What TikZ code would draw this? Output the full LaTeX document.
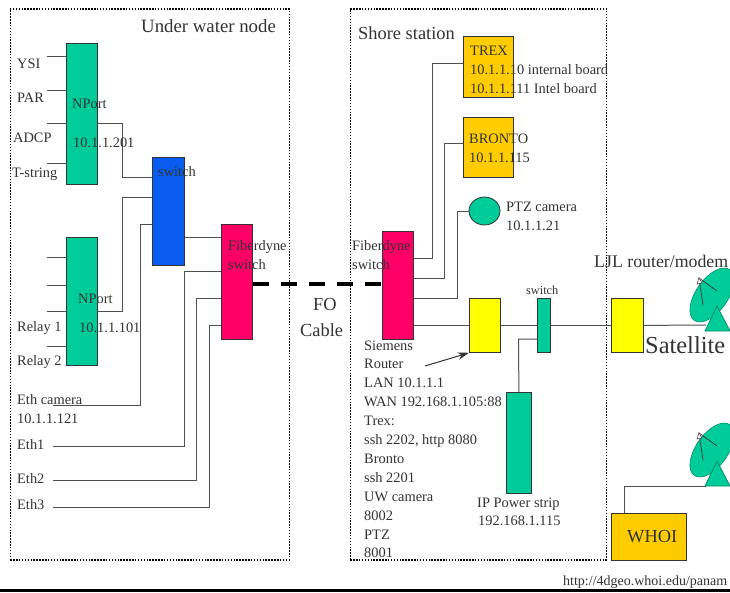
\documentclass[tikz,border=0pt]{standalone}
\usepackage{fontspec}
\setmainfont{Liberation Serif}
\usepackage{xcolor}
\usetikzlibrary{arrows.meta,positioning,calc,shapes.geometric}
\definecolor{cG}{HTML}{00CC99}
\definecolor{cB}{HTML}{0A5CF0}
\definecolor{cR}{HTML}{FF0066}
\definecolor{cY}{HTML}{FFFF00}
\definecolor{cO}{HTML}{FFCC00}
\definecolor{cL}{HTML}{505050}
\definecolor{cT}{HTML}{333333}
\newcommand{\fs}[2]{\fontsize{#1}{#2}\selectfont}
\tikzset{
  blk/.style={draw=cT,thick,inner sep=0pt,anchor=north west},
  wire/.style={draw=cL,line width=1pt},
  lbl/.style={inner sep=0pt,anchor=base west,text=cT,align=left,font=\fs{14.4}{19}},
  biglbl/.style={lbl,font=\fs{18.4}{26}},
  area/.style={draw=black,line width=1.5pt,dash pattern=on 1.5pt off 1.4pt},
  fo/.style={draw=black,line width=3.6pt,dash pattern=on 16pt off 12pt},
  arrowline/.style={-{Stealth[length=4mm,width=2.6mm]},draw=cT,line width=1pt},
}
\begin{document}
\begin{tikzpicture}[x=1pt,y=-1pt]
  \useasboundingbox (0,0) rectangle (730,592);
  \fill[white] (0,0) rectangle (730,592);
  % the two dotted areas
  \node[area,anchor=north west,inner sep=0pt,minimum width=279pt,minimum height=551pt] (uwArea) at (9.5,8){};
  \node[area,anchor=north west,inner sep=0pt,minimum width=256pt,minimum height=551pt] (shoreArea) at (349.5,8){};
  % boxes
  \node[blk,fill=cG,minimum width=31pt,minimum height=141pt] (nportA) at (66,43){};
  \node[blk,fill=cG,minimum width=31pt,minimum height=128pt] (nportB) at (66,237){};
  \node[blk,fill=cB,minimum width=32pt,minimum height=108pt] (swUw) at (152,157){};
  \node[blk,fill=cR,minimum width=31pt,minimum height=115pt] (fiberUw) at (221,224){};
  \node[blk,fill=cR,minimum width=31pt,minimum height=108pt] (fiberSh) at (382,231){};
  \node[blk,fill=cO,minimum width=50pt,minimum height=61pt] (trex) at (463,36){};
  \node[blk,fill=cO,minimum width=50pt,minimum height=60pt] (bronto) at (463,117){};
  \node[ellipse,draw=cT,thick,fill=cG,inner sep=0pt,minimum width=31pt,minimum height=28pt] (ptz) at (484.5,211){};
  \node[blk,fill=cY,minimum width=31pt,minimum height=54pt] (router) at (469,298){};
  \node[blk,fill=cG,minimum width=13pt,minimum height=54pt] (swSh) at (537,298){};
  \node[blk,fill=cG,minimum width=25pt,minimum height=101pt] (power) at (506,392){};
  \node[blk,fill=cY,minimum width=32pt,minimum height=54pt] (ljl) at (611,298){};
  \node[blk,fill=cO,minimum width=75pt,minimum height=47pt] (whoi) at (611,513){};
  % sensor stubs on the two NPorts
  \foreach \n/\y in {a/56,b/90,c/123,d/163}{
    \coordinate (st\n) at (47,\y);
    \draw[wire] (st\n) -- (nportA.west |- st\n);
  }
  \foreach \n/\y in {e/257,f/285,g/311,h/346}{
    \coordinate (st\n) at (47,\y);
    \draw[wire] (st\n) -- (nportB.west |- st\n);
  }
  % under water wiring
  \coordinate (ethcam) at (53,405);
  \coordinate (ethA) at (53,446);
  \coordinate (ethB) at (53,480);
  \coordinate (ethC) at (53,507);
  \draw[wire] (nportA.east |- stc) -- (122,123) -- (122,177) -- (swUw.west |- 122,177);
  \draw[wire] (nportB.east |- stg) -- (122,311) -- (122,197) -- (swUw.west |- 122,197);
  \draw[wire] (ethcam) -- (140,405) -- (140,224) -- (swUw.west |- 140,224);
  \draw[wire] (swUw.east |- 184,237) -- (fiberUw.west |- 184,237);
  \draw[wire] (ethA) -- (184,446) -- (184,271) -- (fiberUw.west |- 184,271);
  \draw[wire] (ethB) -- (196,480) -- (196,298) -- (fiberUw.west |- 196,298);
  \draw[wire] (ethC) -- (209,507) -- (209,325) -- (fiberUw.west |- 209,325);
  \draw[fo] (fiberUw.east |- 252,284) -- (fiberSh.west |- 252,284);
  % shore wiring
  \draw[wire] (fiberSh.east |- 413,258) -- (432,258) -- (432,63) -- (trex.west |- 432,63);
  \draw[wire] (fiberSh.east |- 413,278) -- (444,278) -- (444,143) -- (bronto.west |- 444,143);
  \draw[wire] (fiberSh.east |- 413,298) -- (457,298) -- (457,211) -- (ptz.west);
  \draw[wire] (fiberSh.east |- router.west) -- (router.west);
  \draw[wire] (router.east) -- (swSh.west);
  \draw[wire] (swSh.east) -- (ljl.west);
  \draw[wire] (power.north) -- (518.5,339) -- (swSh.west |- 518.5,339);
  \coordinate (arrowtail) at (425,366);
  \draw[arrowline] (arrowtail) -- (router.south west);
  % the two dishes
  \foreach \n/\dy in {A/0,B/155}{
    \begin{scope}[shift={(0,\dy)}]
      \fill[cG,draw=cG!70!black,line width=.6pt] (712,295) ellipse [x radius=31pt,y radius=16pt,rotate=55];
      \draw[cG!70!black,fill=cG,line width=.8pt] (705,331) -- (717,306) -- (730,331) -- cycle;
      \draw[cT,line width=.7pt] (703,305) -- (699,278) -- (717,291);
      \draw[cT,fill=white,line width=.5pt] (699,278) -- (702,283) -- (697,284) -- cycle;
      \coordinate (dish\n) at (706,325);
    \end{scope}
  }
  \coordinate (dishLine) at (706,486);
  \draw[wire] (ljl.east) -- (dishA);
  \draw[wire] (whoi.north west -| 624,513) -- (624,486) -- (dishLine);
  % labels
  \node[biglbl,font=\fs{18.8}{26}] (tUw) at (141,32){Under water node};
  \node[biglbl] (tSh) at (358,39){Shore station};
  \node[lbl] (tYsi) at (17,68){YSI};
  \node[lbl] (tPar) at (17,102){PAR};
  \node[lbl] (tAdcp) at (13,142){ADCP};
  \node[lbl] (tStr) at (12,177){T-string};
  \node[lbl] (tNa) at (72,108){NPort};
  \node[lbl] (tNaIp) at (73,147){10.1.1.201};
  \node[lbl] (tNb) at (78,303){NPort};
  \node[lbl] (tNbIp) at (79,332){10.1.1.101};
  \node[lbl] (tSw) at (158,176){switch};
  \node[lbl] (tRa) at (17,331){Relay 1};
  \node[lbl] (tRb) at (17,365){Relay 2};
  \node[lbl] (tCam) at (17,404){Eth camera};
  \node[lbl] (tCamIp) at (17,423){10.1.1.121};
  \node[lbl] (tEa) at (17,449){Eth1};
  \node[lbl] (tEb) at (17,483){Eth2};
  \node[lbl] (tEc) at (17,509){Eth3};
  \node[lbl] (tFa) at (228,250){Fiberdyne};
  \node[lbl] (tFaB) at (228,269){switch};
  \node[lbl] (tFb) at (352,250){Fiberdyne};
  \node[lbl] (tFbB) at (352,269){switch};
  \node[biglbl] (tFo) at (313,310){FO};
  \node[biglbl] (tCable) at (300,336){Cable};
  \node[lbl] (tTrex) at (470,55){TREX};
  \node[lbl] (tTrexA) at (470,74){10.1.1.10 internal board};
  \node[lbl] (tTrexB) at (470,93){10.1.1.111 Intel board};
  \node[lbl] (tBr) at (469,143){BRONTO};
  \node[lbl] (tBrIp) at (469,162){10.1.1.115};
  \node[lbl] (tPtz) at (506,211){PTZ camera};
  \node[lbl] (tPtzIp) at (506,230){10.1.1.21};
  \node[lbl,font=\fs{12.3}{15}] (tSwS) at (526,294){switch};
  \node[biglbl,font=\fs{17.8}{26}] (tLjl) at (594,267){LJL router/modem};
  \node[lbl,font=\fs{24.4}{28}] (tSat) at (645,353){Satellite};
  \foreach \t [count=\i from 0] in {Siemens,Router,LAN 10.1.1.1,WAN 192.168.1.105:88,Trex:,{ssh 2202, http 8080},Bronto,ssh 2201,UW camera,8002,PTZ,8001}{
    \node[lbl] (tS\i) at (364,{350+18.9*\i}){\t};
  }
  \node[lbl] (tIp) at (477,507){IP Power strip};
  \node[lbl] (tIpB) at (478,525){192.168.1.115};
  \node[biglbl] (tWhoi) at (627,542){WHOI};
  \node[lbl,font=\fs{14}{16}] (tUrl) at (563,585){http://4dgeo.whoi.edu/panam};
  % rule along the bottom
  \fill[black] (0,589) rectangle (730,592);
\end{tikzpicture}
\end{document}
